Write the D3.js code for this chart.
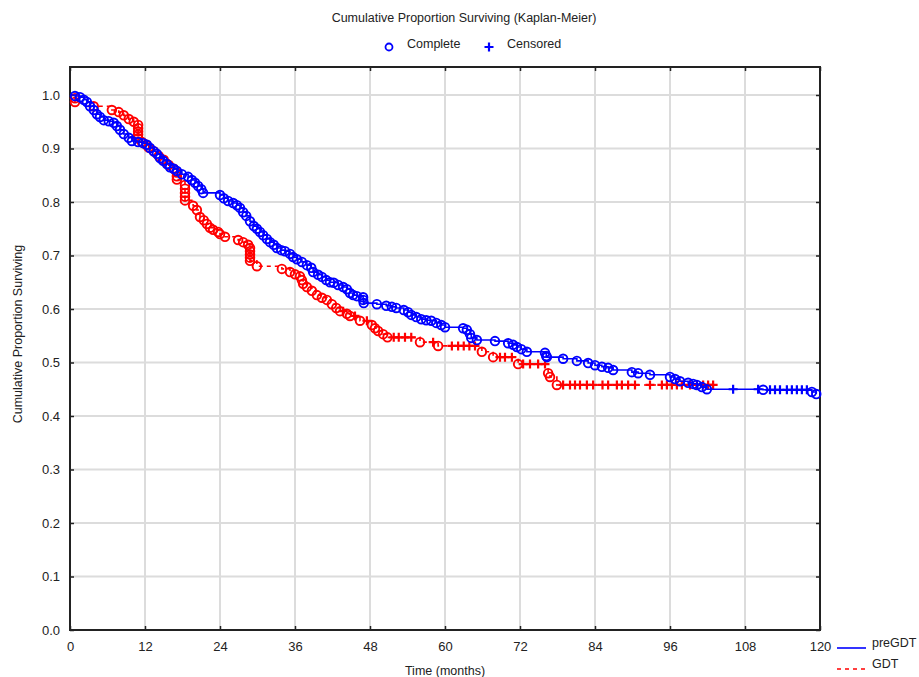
<!DOCTYPE html>
<html>
<head>
<meta charset="utf-8">
<script src="https://cdn.jsdelivr.net/npm/d3@7"></script>
<style>
  body { margin: 0; background: #fff; }
  text { font-family: "Liberation Sans", Arial, sans-serif; fill: #222; }
</style>
</head>
<body>
<svg id="chart" width="919" height="677"></svg>
<script>
// 时间刻度 / 生存比例刻度
const xTicks = [0, 12, 24, 36, 48, 60, 72, 84, 96, 108, 120];
const yTicks = [0, 0.1, 0.2, 0.3, 0.4, 0.5, 0.6, 0.7, 0.8, 0.9, 1.0];

// preGDT: [time, survival] 完整事件
const preEvents = [
  [0.8, 0.998], [1.6, 0.996], [2.2, 0.991], [2.7, 0.987], [3.2, 0.979], [3.8, 0.972], [4.3, 0.964],
  [4.8, 0.959], [5.4, 0.953], [6.2, 0.951], [7.0, 0.948], [7.5, 0.942], [8.0, 0.935], [8.6, 0.927],
  [9.4, 0.920], [9.9, 0.914], [10.9, 0.912], [11.7, 0.910], [12.3, 0.907], [12.8, 0.901], [13.4, 0.895],
  [13.9, 0.890], [14.4, 0.882], [14.9, 0.877], [15.5, 0.871], [16.0, 0.865], [16.6, 0.862], [17.1, 0.858],
  [17.9, 0.852], [18.9, 0.847], [19.5, 0.841], [20.0, 0.836], [20.5, 0.830], [21.0, 0.824], [21.3, 0.817],
  [24.0, 0.813], [24.6, 0.807], [25.3, 0.802], [26.1, 0.798], [26.7, 0.794], [27.2, 0.789], [27.7, 0.781],
  [28.2, 0.774], [28.8, 0.764], [29.4, 0.755], [29.9, 0.750], [30.4, 0.744], [30.9, 0.738], [31.5, 0.731],
  [32.0, 0.725], [32.6, 0.720], [33.1, 0.714], [33.8, 0.710], [34.4, 0.708], [35.2, 0.703], [35.7, 0.697],
  [36.3, 0.693], [37.1, 0.688], [37.9, 0.682], [38.6, 0.677], [38.9, 0.669], [39.7, 0.664], [40.3, 0.660],
  [41.0, 0.654], [41.6, 0.650], [42.2, 0.649], [42.9, 0.645], [43.7, 0.641], [44.3, 0.637], [44.8, 0.630],
  [45.3, 0.626], [45.9, 0.624], [46.9, 0.622], [46.9, 0.617], [47.0, 0.611], [49.1, 0.609], [50.6, 0.606],
  [51.5, 0.604], [52.2, 0.602], [53.4, 0.598], [54.1, 0.594], [54.6, 0.589], [55.4, 0.585], [56.2, 0.581],
  [57.0, 0.579], [57.8, 0.578], [58.6, 0.574], [59.4, 0.570], [60.0, 0.566], [62.9, 0.564], [63.5, 0.561],
  [64.0, 0.553], [64.2, 0.546], [65.1, 0.542], [68.0, 0.540], [70.1, 0.536], [70.9, 0.533], [71.5, 0.529],
  [72.2, 0.525], [73.1, 0.520], [76.0, 0.518], [76.2, 0.512], [76.3, 0.510], [78.9, 0.507], [81.1, 0.503],
  [82.9, 0.499], [84.0, 0.495], [85.1, 0.492], [86.1, 0.490], [86.9, 0.486], [89.9, 0.482], [90.9, 0.480],
  [92.8, 0.477], [96.0, 0.473], [96.8, 0.469], [97.6, 0.465], [98.9, 0.462], [99.7, 0.460], [100.3, 0.458],
  [101.1, 0.454], [101.9, 0.450], [110.9, 0.449], [118.7, 0.445], [119.4, 0.441]
];
// preGDT: 删失
const preCensored = [
  [106.1, 0.450], [110.1, 0.450], [112.0, 0.449], [112.8, 0.449], [113.6, 0.449], [114.7, 0.449],
  [115.5, 0.449], [116.3, 0.449], [117.1, 0.449], [117.9, 0.449]
];

// GDT: 完整事件
const gdtEvents = [
  [0.8, 0.994], [0.8, 0.987], [3.8, 0.979], [6.7, 0.972], [7.8, 0.968], [8.6, 0.962], [9.4, 0.955],
  [10.2, 0.950], [10.9, 0.944], [10.9, 0.938], [10.9, 0.932], [10.9, 0.926], [10.9, 0.919], [11.5, 0.912],
  [12.2, 0.907], [12.6, 0.902], [13.4, 0.895], [14.2, 0.886], [15.0, 0.879], [15.8, 0.869], [16.6, 0.862],
  [17.1, 0.855], [17.1, 0.848], [17.1, 0.842], [18.4, 0.832], [18.4, 0.825], [18.4, 0.817], [18.4, 0.810],
  [18.4, 0.803], [19.7, 0.793], [20.3, 0.785], [20.8, 0.772], [21.4, 0.766], [21.9, 0.759], [22.4, 0.752],
  [22.9, 0.748], [23.7, 0.744], [24.0, 0.740], [24.8, 0.735], [26.9, 0.729], [27.7, 0.725], [28.5, 0.720],
  [28.8, 0.714], [28.8, 0.708], [28.8, 0.702], [28.8, 0.696], [28.8, 0.690], [29.9, 0.680], [33.9, 0.675],
  [35.2, 0.669], [36.0, 0.665], [36.8, 0.661], [37.1, 0.654], [37.3, 0.647], [37.9, 0.641], [38.7, 0.634],
  [39.5, 0.626], [40.3, 0.621], [41.1, 0.617], [41.9, 0.609], [42.6, 0.602], [43.2, 0.596], [44.3, 0.591],
  [44.8, 0.587], [46.4, 0.578], [48.3, 0.570], [48.8, 0.564], [49.3, 0.559], [50.1, 0.553], [50.8, 0.547],
  [56.0, 0.538], [58.9, 0.531], [65.9, 0.520], [67.7, 0.510], [71.7, 0.497], [76.5, 0.480], [76.8, 0.473],
  [77.9, 0.458]
];
// GDT: 删失
const gdtCensored = [
  [43.7, 0.596], [45.6, 0.587], [47.5, 0.578], [51.8, 0.547], [52.6, 0.547], [53.6, 0.547], [54.6, 0.547],
  [58.1, 0.538], [61.1, 0.531], [62.1, 0.531], [63.0, 0.531], [63.9, 0.531], [64.8, 0.531], [68.8, 0.510],
  [69.6, 0.510], [70.7, 0.510], [72.5, 0.497], [73.6, 0.497], [74.9, 0.497], [76.0, 0.497], [78.9, 0.458],
  [80.0, 0.458], [80.8, 0.458], [81.6, 0.458], [82.7, 0.458], [83.7, 0.458], [85.2, 0.458], [86.1, 0.458],
  [87.5, 0.458], [88.3, 0.458], [89.3, 0.458], [90.4, 0.458], [92.8, 0.458], [94.7, 0.458], [95.5, 0.458],
  [96.3, 0.458], [97.1, 0.458], [97.9, 0.458], [99.2, 0.458], [100.3, 0.458], [101.3, 0.458], [102.1, 0.458],
  [102.9, 0.458]
];

const groups = [
  { name: "GDT", color: "#ff0000", dash: "4,4", events: gdtEvents, censored: gdtCensored },
  { name: "preGDT", color: "#0000ff", dash: null, events: preEvents, censored: preCensored }
];

const svg = d3.select("#chart");
const mLeft = 70, mRight = 820, mTop = 67, mBottom = 630;

const x = d3.scaleLinear().domain([0, 120]).range([mLeft, mRight]);
const y = d3.scaleLinear().domain([0, 1.0]).range([mBottom, 95]);

// 网格线
const grid = svg.append("g").attr("class", "grid");
grid.selectAll(".vg")
  .data(xTicks.filter((d) => d > 0 && d < 120))
  .join("line")
  .attr("x1", (d) => x(d)).attr("x2", (d) => x(d))
  .attr("y1", mTop).attr("y2", mBottom)
  .attr("stroke", "#dcdcdc").attr("stroke-width", 2);
grid.selectAll(".hg")
  .data(yTicks.filter((d) => d > 0))
  .join("line")
  .attr("x1", mLeft).attr("x2", mRight)
  .attr("y1", (d) => y(d)).attr("y2", (d) => y(d))
  .attr("stroke", "#dcdcdc").attr("stroke-width", 2);

// 坐标轴（刻度朝内）
svg.append("g")
  .attr("transform", `translate(0,${mBottom})`)
  .call(d3.axisBottom(x).tickValues(xTicks).tickSize(-4).tickPadding(12).tickFormat(d3.format("d")))
  .call((g) => g.select(".domain").remove())
  .call((g) => g.selectAll("text").attr("font-size", 13).attr("fill", "#222"));
svg.append("g")
  .attr("transform", `translate(${mLeft},0)`)
  .call(d3.axisLeft(y).tickValues(yTicks).tickSize(-4).tickPadding(10).tickFormat(d3.format(".1f")))
  .call((g) => g.select(".domain").remove())
  .call((g) => g.selectAll("text").attr("font-size", 13).attr("fill", "#222"));
svg.append("g")
  .attr("transform", `translate(${mRight},0)`)
  .call(d3.axisRight(y).tickValues(yTicks).tickSize(-4).tickFormat(""))
  .call((g) => g.select(".domain").remove());
svg.append("g")
  .attr("transform", `translate(0,${mTop})`)
  .call(d3.axisTop(x).tickValues(xTicks).tickSize(-4).tickFormat(""))
  .call((g) => g.select(".domain").remove());
svg.selectAll(".tick line").attr("stroke", "#222").attr("stroke-width", 1.5);

// 边框
svg.append("rect")
  .attr("x", mLeft).attr("y", mTop)
  .attr("width", mRight - mLeft).attr("height", mBottom - mTop)
  .attr("fill", "none").attr("stroke", "#222").attr("stroke-width", 2);

// 生存曲线
const line = d3.line()
  .x((d) => x(d[0]))
  .y((d) => y(d[1]))
  .curve(d3.curveStepAfter);

const plus = (cx, cy, h) => `M${cx - h},${cy}H${cx + h}M${cx},${cy - h}V${cy + h}`;

groups.forEach((grp) => {
  const pts = [[0, 1]].concat(grp.events, grp.censored).sort((a, b) => a[0] - b[0] || b[1] - a[1]);
  const g = svg.append("g").attr("class", grp.name);

  g.append("path")
    .datum(pts)
    .attr("d", line)
    .attr("fill", "none")
    .attr("stroke", grp.color)
    .attr("stroke-width", 1.6)
    .attr("stroke-dasharray", grp.dash);

  g.selectAll(".ev")
    .data(grp.events)
    .join("circle")
    .attr("cx", (d) => x(d[0]))
    .attr("cy", (d) => y(d[1]))
    .attr("r", 4.3)
    .attr("fill", "none")
    .attr("stroke", grp.color)
    .attr("stroke-width", 1.9);

  g.selectAll(".cs")
    .data(grp.censored)
    .join("path")
    .attr("d", (d) => plus(x(d[0]), y(d[1]), 4.5))
    .attr("stroke", grp.color)
    .attr("stroke-width", 2.2)
    .attr("fill", "none");
});

// 标题和图例
svg.append("text")
  .attr("x", 464).attr("y", 22)
  .attr("text-anchor", "middle")
  .attr("font-size", 12.5)
  .text("Cumulative Proportion Surviving (Kaplan-Meier)");

svg.append("circle")
  .attr("cx", 389).attr("cy", 47).attr("r", 3.5)
  .attr("fill", "none").attr("stroke", "#0000ff").attr("stroke-width", 1.8);
svg.append("text").attr("x", 407).attr("y", 48).attr("font-size", 12.5).text("Complete");
svg.append("path")
  .attr("d", plus(489, 47, 4.5))
  .attr("stroke", "#0000ff").attr("stroke-width", 2.2);
svg.append("text").attr("x", 507).attr("y", 48).attr("font-size", 12.5).text("Censored");

// 轴标题
svg.append("text")
  .attr("x", (mLeft + mRight) / 2).attr("y", 675)
  .attr("text-anchor", "middle")
  .attr("font-size", 12.5)
  .text("Time (months)");
svg.append("text")
  .attr("transform", "translate(22,334) rotate(-90)")
  .attr("text-anchor", "middle")
  .attr("font-size", 12.5)
  .text("Cumulative Proportion Surviving");

// 组图例
const legend = svg.append("g");
[{ name: "preGDT", color: "#0000ff", dash: null, y: 648 },
 { name: "GDT", color: "#ff0000", dash: "4,4", y: 669 }].forEach((d) => {
  legend.append("line")
    .attr("x1", 837).attr("x2", 866)
    .attr("y1", d.y).attr("y2", d.y)
    .attr("stroke", d.color).attr("stroke-width", 1.6)
    .attr("stroke-dasharray", d.dash);
  legend.append("text")
    .attr("x", 872).attr("y", d.y - 1)
    .attr("font-size", 12.5)
    .text(d.name);
});
</script>
</body>
</html>
